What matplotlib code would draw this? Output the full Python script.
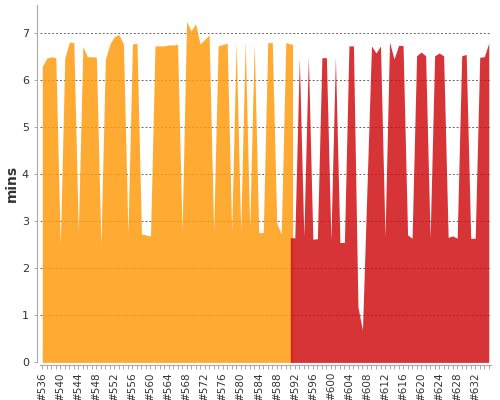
import matplotlib.pyplot as plt
import numpy as np

# build numbers and duration (minutes)
builds = list(range(536, 636))
mins_ok = [6.29, 6.47, 6.50, 6.48, 2.50, 6.47, 6.81, 6.80, 2.78, 6.72,
           6.50, 6.50, 6.49, 2.50, 6.45, 6.77, 6.93, 6.97, 6.77, 2.76,
           6.77, 6.79, 2.73, 2.71, 2.69, 6.73, 6.73, 6.73, 6.75, 6.75,
           6.76, 2.78, 7.25, 7.05, 7.20, 6.77, 6.87, 6.96, 2.78, 6.73,
           6.76, 6.79, 2.78, 6.82, 2.78, 6.85, 2.85, 6.79, 2.76, 2.76,
           6.80, 6.80, 2.96, 2.73, 6.80, 6.77]          # #536 - #591
mins_fail = [2.65, 6.47, 2.68, 6.50, 2.62, 2.63, 6.48, 6.48, 2.60, 6.50,
             2.55, 2.55, 6.73, 6.73, 1.18, 0.69, 3.70, 6.73, 6.58, 6.73,
             2.67, 6.81, 6.45, 6.74, 6.74, 2.71, 2.64, 6.52, 6.60, 6.52,
             2.64, 6.52, 6.58, 6.52, 2.66, 2.69, 2.64, 6.52, 6.55, 2.64,
             2.64, 6.49, 6.50, 6.79]                   # #592 - #635
tick_labels = ['#%d' % b for b in builds[::4]]

orange = '#FF9B0F'
red = '#D11014'

fig = plt.figure(figsize=(5, 4), dpi=100)
ax = fig.add_axes([0.08, 0.094, 0.902, 0.8935])

x = np.arange(len(builds))
n_ok = len(mins_ok)
x_ok = np.append(x[:n_ok], x[n_ok - 1] + 0.5)
y_ok = np.append(mins_ok, mins_ok[-1])
x_fail = np.insert(x[n_ok:], 0, x[n_ok] - 0.5)
y_fail = np.insert(mins_fail, 0, mins_fail[0])

ax.fill_between(x_ok, 0, y_ok, color=orange, alpha=0.85, lw=0, zorder=2)
ax.fill_between(x_fail, 0, y_fail, color=red, alpha=0.85, lw=0, zorder=2)

ax.set_xlim(-0.5, len(builds) - 0.5)
ax.set_ylim(0, 7.6)

ax.set_yticks(range(8))
ax.grid(True, axis='y', color='#666666', linestyle=(0, (2, 2)), lw=0.7, zorder=1)
ax.set_xticks(x, minor=True)
ax.set_xticks(x[::4])
ax.set_xticklabels(tick_labels)
ax.tick_params(axis='x', which='both', length=3, width=0.6, color='#999999', pad=2)
ax.tick_params(axis='x', which='major', labelrotation=90, labelsize=7.5,
               labelcolor='#333333')
ax.tick_params(axis='y', length=2, width=0.6, color='#999999', labelsize=8,
               labelcolor='#333333', pad=4)

for s in ['top', 'right']:
    ax.spines[s].set_visible(False)
ax.spines['left'].set_color('#aaaaaa')
ax.spines['bottom'].set_color('#aaaaaa')
ax.spines['left'].set_position(('outward', 2))
ax.spines['bottom'].set_position(('outward', 2))

ax.set_ylabel('mins', fontsize=10, fontweight='bold', color='#333333', labelpad=2)

fig.savefig('out.png')
